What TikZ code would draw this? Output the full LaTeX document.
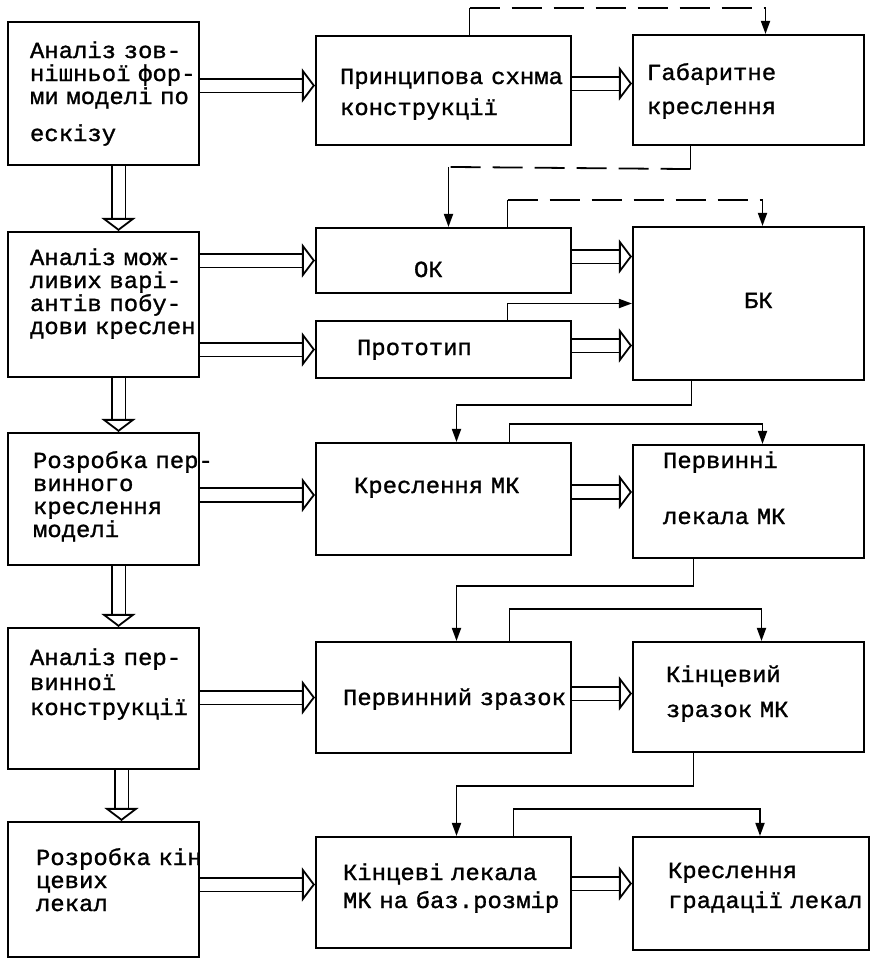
\documentclass[tikz,border=0pt]{standalone}
\usepackage{fontspec}
\newfontfamily\typewr[FakeBold=1.2, FakeStretch=1.04]{Liberation Mono}
\usetikzlibrary{arrows.meta}
\hyphenpenalty=10000
\exhyphenpenalty=10000

\tikzset{
  box/.style={draw, rectangle, line width=2.1pt, align=left, inner ysep=0pt,
    font=\typewr\fontsize{23}{23}\selectfont},
  wh/.style 2 args={minimum width=#1, minimum height=#2},
  pad/.style 2 args={inner xsep=#1, text width=#2},
  % first text line: #1/2 above or below the box centre
  liftline/.style={text height=0pt, text depth=#1},
  dropline/.style={text height=#1, text depth=0pt},
  link/.style={line width=1.8pt},
  fwd/.style={link, -{Triangle[length=13pt, width=9pt]}},
  dsh/.style={link, dash pattern=on 30pt off 12pt},
  dbl/.style={double, double distance=12pt, line width=1.8pt,
    -{Triangle[open, length=13pt, width=34pt, line width=1.8pt]}}
}

\begin{document}
\begin{tikzpicture}[x=1pt, y=-1pt]
\useasboundingbox (0,0) rectangle (874,959);

%%%%%%%%%%%%%%%%%%%
% Left column: stages of the work

\node[box, wh={191pt}{143pt}, pad={22pt}{147pt}, liftline=71pt] (l_form) at (103.5,93.5)
  {Аналіз~зов-\\нішньої~фор-\\ми~моделі~по\\[14pt]ескізу};
\node[box, wh={191pt}{145pt}, pad={22pt}{147pt}, liftline=79pt] (l_variants) at (103.5,304.5)
  {Аналіз~мож-\\ливих~варі-\\антів~побу-\\дови~креслен};
\node[box, wh={191pt}{132pt}, pad={25pt}{141pt}, liftline=62pt] (l_primary) at (103.5,499)
  {Розробка~пер-\\винного\\креслення\\моделі};
\node[box, wh={191pt}{141pt}, pad={22pt}{147pt}, liftline=67pt] (l_check) at (103.5,698.5)
  {Аналіз~пер-\\[2pt]винної\\[2pt]конструкції};
\node[box, wh={191pt}{135pt}, pad={28pt}{135pt}, liftline=49pt] (l_final) at (103.5,889.5)
  {Розробка~кін\\цевих\\лекал};

\draw[dbl] ([xshift=15pt]l_form.south) -- ([xshift=15pt]l_variants.north);
\draw[dbl] ([xshift=15pt]l_variants.south) -- ([xshift=15pt]l_primary.north);
\draw[dbl] ([xshift=15pt]l_primary.south) -- ([xshift=15pt]l_check.north);
\draw[dbl] ([xshift=18pt]l_check.south) -- ([xshift=18pt]l_final.north);

%%%%%%%%%%%%%%%%%%%
% Middle column: results

\node[box, wh={255pt}{109pt}, pad={24pt}{207pt}, liftline=13pt] (m_scheme) at (443.5,90.5)
  {Принципова~схнма\\[8pt]конструкції};
\node[box, wh={255pt}{65pt}, pad={98pt}{59pt}, dropline=33pt] (m_ok) at (443.5,260.5) {ОК};
\node[box, wh={255pt}{57pt}, pad={41pt}{173pt}, dropline=11pt] (m_proto) at (443.5,349.5)
  {Прототип};
\node[box, wh={255pt}{112pt}, pad={38pt}{179pt}, liftline=12pt] (m_drawing) at (443.5,499)
  {Креслення~МК};
\node[box, wh={255pt}{111pt}, pad={27pt}{201pt}, dropline=15pt] (m_sample) at (443.5,697.5)
  {Первинний~зразок};
\node[box, wh={255pt}{111pt}, pad={27pt}{201pt}, liftline=25pt] (m_patterns) at (443.5,892.5)
  {Кінцеві~лекала\\[5pt]МК~на~баз.розмір};

%%%%%%%%%%%%%%%%%%%
% Right column: outputs

\node[box, wh={231pt}{110pt}, pad={14pt}{203pt}, liftline=20pt] (r_overall) at (748.5,90)
  {Габаритне\\[11pt]креслення};
\node[box, wh={231pt}{153pt}, pad={111pt}{9pt}, dropline=9pt] (r_bk) at (748.5,303.5) {БК};
\node[box, wh={231pt}{113pt}, pad={30pt}{171pt}, liftline=67pt] (r_primary) at (748.5,501.5)
  {Первинні\\[33pt]лекала~МК};
\node[box, wh={231pt}{110pt}, pad={33pt}{165pt}, liftline=30pt] (r_sample) at (748.5,697)
  {Кінцевий\\[12pt]зразок~МК};
\node[box, wh={236pt}{113pt}, pad={35pt}{166pt}, liftline=31pt] (r_grading) at (751,893.5)
  {Креслення\\[7pt]градації~лекал};

%%%%%%%%%%%%%%%%%%%
% Double arrows between the columns

\draw[dbl] ([yshift=8pt]l_form.east) -- ([yshift=8pt]l_form.east -| m_scheme.west);
\draw[dbl] ([yshift=7pt]m_scheme.east) -- ([yshift=7pt]m_scheme.east -| r_overall.west);
\draw[dbl] (m_ok.west -| l_variants.east) -- (m_ok.west);
\draw[dbl] (m_proto.west -| l_variants.east) -- (m_proto.west);
\draw[dbl] ([yshift=4pt]m_ok.east) -- ([yshift=4pt]m_ok.east -| r_bk.west);
\draw[dbl] ([yshift=4pt]m_proto.east) -- ([yshift=4pt]m_proto.east -| r_bk.west);
\draw[dbl] ([yshift=4pt]m_drawing.west -| l_primary.east) -- ([yshift=4pt]m_drawing.west);
\draw[dbl] ([yshift=7pt]m_drawing.east) -- ([yshift=7pt]m_drawing.east -| r_primary.west);
\draw[dbl] (m_sample.west -| l_check.east) -- (m_sample.west);
\draw[dbl] ([yshift=4pt]m_sample.east) -- ([yshift=4pt]m_sample.east -| r_sample.west);
\draw[dbl] ([yshift=8pt]m_patterns.west -| l_final.east) -- ([yshift=8pt]m_patterns.west);
\draw[dbl] ([yshift=9pt]m_patterns.east) -- ([yshift=9pt]m_patterns.east -| r_grading.west);

%%%%%%%%%%%%%%%%%%%
% Dashed feedback links

\path ([xshift=26pt]m_scheme.north) ++(0,-27) coordinate (sd_a)
      ([xshift=17pt]r_overall.north) ++(0,-26) coordinate (sd_b);
\draw[link] ([xshift=26pt]m_scheme.north) -- (sd_a);
\draw[dsh] (sd_a) -- (sd_b);
\draw[fwd] (sd_b) -- ([xshift=17pt]r_overall.north);

\path ([xshift=-58pt]r_overall.south) ++(0,23) coordinate (sd_c)
      ([xshift=5pt]m_ok.north) ++(0,-60) coordinate (sd_d);
\draw[link] ([xshift=-58pt]r_overall.south) -- (sd_c);
\draw[dsh] (sd_c) -- (sd_d);
\draw[fwd] (sd_d) -- ([xshift=5pt]m_ok.north);

\path ([xshift=64pt]m_ok.north) ++(0,-27) coordinate (sd_e)
      ([xshift=14pt]r_bk.north) ++(0,-26) coordinate (sd_f);
\draw[link] ([xshift=64pt]m_ok.north) -- (sd_e);
\draw[dsh] (sd_e) -- (sd_f);
\draw[fwd] (sd_f) -- ([xshift=14pt]r_bk.north);

%%%%%%%%%%%%%%%%%%%
% Solid links

\draw[fwd] ([xshift=64pt]m_proto.north) |- (r_bk.west);
\draw[fwd] ([xshift=-57pt]r_bk.south) -- ++(0,24) -| ([xshift=13pt]m_drawing.north);
\draw[fwd] ([xshift=66pt]m_drawing.north) -- ++(0,-18) -| ([xshift=14pt]r_primary.north);
\draw[fwd] ([xshift=-55pt]r_primary.south) -- ++(0,27) -| ([xshift=13pt]m_sample.north);
\draw[fwd] ([xshift=66pt]m_sample.north) -- ++(0,-32) -| ([xshift=13pt]r_sample.north);
\draw[fwd] ([xshift=-55pt]r_sample.south) -- ++(0,33) -| ([xshift=13pt]m_patterns.north);
\draw[fwd] ([xshift=70pt]m_patterns.north) -- ++(0,-27) -| ([xshift=9pt]r_grading.north);

\end{tikzpicture}
\end{document}
